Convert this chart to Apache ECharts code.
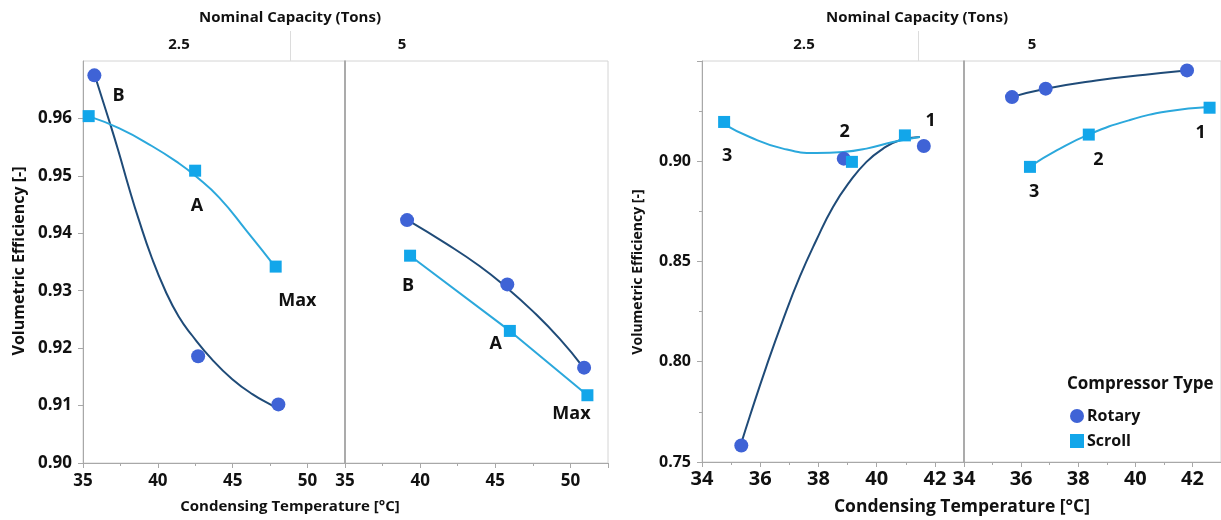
<!DOCTYPE html>
<html><head><meta charset="utf-8">
<script src="https://cdn.jsdelivr.net/npm/echarts@6/dist/echarts.min.js"></script>
<style>html,body{margin:0;padding:0;background:#fff}#c{width:1221px;height:520px}</style>
</head><body><div id="c"></div>
<script>
// ---------- titles / categories ----------
const headerTitle = 'Nominal Capacity (Tons)';
const capacities = ['2.5', '5'];
const yTitle = 'Volumetric Efficiency [-]';
const xTitle = 'Condensing Temperature [°C]';
const legendTitle = 'Compressor Type';
const seriesNames = ['Rotary', 'Scroll'];

// ---------- left figure: [temperature, efficiency] ----------
const leftRotary25 = [[35.76, 0.9675], [42.69, 0.9186], [48.05, 0.9102]];
const leftScroll25 = [[35.38, 0.9604], [42.49, 0.9509], [47.87, 0.9342]];
const leftRotary5  = [[39.13, 0.9423], [45.80, 0.9311], [50.91, 0.9166]];
const leftScroll5  = [[39.33, 0.9361], [45.97, 0.9230], [51.13, 0.9118]];
// smoother curves
const leftRotary25Fit = [[35.80,0.9674],[36.70,0.9600],[37.37,0.9543],[38.04,0.9482],[38.71,0.9425],[39.60,0.9357],[40.50,0.9300],[41.39,0.9255],[42.29,0.9222],[43.63,0.9180],[44.97,0.9146],[46.31,0.9120],[47.65,0.9100],[48.09,0.9094]];
const leftScroll25Fit = [[35.36,0.9604],[37.40,0.9583],[39.60,0.9552],[41.40,0.9522],[42.50,0.9500],[44.10,0.9462],[45.90,0.9405],[47.80,0.9343]];
const leftRotary5Fit  = [[39.17,0.9423],[41.73,0.9382],[43.95,0.9343],[45.73,0.9306],[47.51,0.9264],[49.29,0.9216],[50.84,0.9167]];
const leftScroll5Fit  = [[39.33,0.9361],[45.97,0.9230],[51.13,0.9118]];
// point labels [x, y, text]
const leftLabels25 = [[37.37, 0.9639, 'B'], [42.62, 0.9448, 'A'], [49.32, 0.9283, 'Max']];
const leftLabels5  = [[39.20, 0.9309, 'B'], [45.02, 0.9208, 'A'], [50.07, 0.9085, 'Max']];

// ---------- right figure ----------
const rightRotary25 = [[35.35, 0.7582], [38.87, 0.9013], [41.62, 0.9076]];
const rightScroll25 = [[34.76, 0.9196], [39.15, 0.8997], [40.97, 0.9129]];
const rightRotary5  = [[35.68, 0.9320], [36.86, 0.9362], [41.81, 0.9453]];
const rightScroll5  = [[36.31, 0.8972], [38.37, 0.9133], [42.60, 0.9267]];
const rightRotary25Fit = [[35.35,0.7594],[35.64,0.7727],[36.21,0.7976],[36.78,0.8208],[37.36,0.8424],[37.93,0.8607],[38.50,0.8772],[39.07,0.8897],[39.65,0.8997],[40.22,0.9063],[40.79,0.9105],[41.48,0.9121]];
const rightScroll25Fit = [[34.72,0.9188],[35.64,0.9121],[36.78,0.9063],[37.93,0.9041],[38.85,0.9046],[39.65,0.9063],[40.56,0.9096],[41.48,0.9121]];
const rightRotary5Fit  = [[35.66,0.9320],[36.86,0.9362],[38.63,0.9403],[40.35,0.9432],[41.78,0.9453]];
const rightScroll5Fit  = [[36.29,0.8972],[37.26,0.9055],[38.38,0.9134],[39.77,0.9204],[41.15,0.9249],[42.58,0.9270]];
const rightLabels25 = [[34.86, 0.9025, '3'], [38.90, 0.9146, '2'], [41.85, 0.9201, '1']];
const rightLabels5  = [[36.46, 0.8847, '3'], [38.71, 0.9008, '2'], [42.29, 0.9141, '1']];

// ---------- axis settings ----------
const leftX = {min: 35, max: 52.5, interval: 5};
const leftY = {min: 0.90, max: 0.97, interval: 0.01};
const rightX = {min: 34, max: 43, interval: 2};
const rightY = {min: 0.75, max: 0.95, interval: 0.05};

// ---------- styles ----------
const FONT = '"Open Sans", "Noto Sans", sans-serif';
const TXT = '#111111';
const AX = '#a8a8a8';
const DIV = '#9a9a9a';
const ROT_M = '#3f63d6', ROT_L = '#1f4b78';
const SCR_M = '#12a6ea', SCR_L = '#2ba8dc';

const grids = [
  {left: 83, top: 61, width: 262, height: 402},
  {left: 345, top: 61, width: 263, height: 402},
  {left: 702, top: 61, width: 262, height: 401},
  {left: 964, top: 61, width: 262, height: 401}
].map(g => Object.assign({show: true, borderColor: '#d4d4d4', borderWidth: 1, backgroundColor: 'transparent'}, g));

function xAxis(i, r, minorSplit, size, margin) {
  return {
    type: 'value', gridIndex: i, min: r.min, max: r.max, interval: r.interval,
    axisLine: {show: true, lineStyle: {color: AX, width: 1}},
    axisTick: {show: true, length: 5, lineStyle: {color: AX}},
    minorTick: {show: true, splitNumber: minorSplit, length: 3, lineStyle: {color: AX}},
    splitLine: {show: false},
    axisLabel: {show: true, showMaxLabel: false, showMinLabel: true, margin: margin, color: TXT,
      fontFamily: FONT, fontWeight: 'bold', fontSize: size, hideOverlap: false,
      formatter: v => (Math.abs(v - Math.round(v)) < 1e-9 ? String(Math.round(v)) : '')}
  };
}
function yAxis(i, r, labels, minorSplit, size) {
  return {
    type: 'value', gridIndex: i, min: r.min, max: r.max, interval: r.interval,
    axisLine: {show: true, lineStyle: {color: labels ? AX : DIV, width: labels ? 1 : 1.5}},
    axisTick: {show: labels, length: 5, lineStyle: {color: AX}},
    minorTick: {show: labels && minorSplit > 1, splitNumber: minorSplit, length: 3, lineStyle: {color: AX}},
    splitLine: {show: false},
    axisLabel: {show: labels, showMaxLabel: false, margin: 11, color: TXT,
      fontFamily: FONT, fontWeight: 'bold', fontSize: size, hideOverlap: false,
      formatter: v => v.toFixed(2)}
  };
}

function markers(name, data, gi) {
  const rot = name === 'Rotary';
  return {
    name: name, type: 'scatter', xAxisIndex: gi, yAxisIndex: gi, data: data,
    symbol: rot ? 'circle' : 'rect', symbolSize: rot ? 14 : 12, z: 5,
    itemStyle: {color: rot ? ROT_M : SCR_M, opacity: 1}, silent: true
  };
}
function fit(name, data, gi, smooth) {
  const rot = name === 'Rotary';
  return {
    name: name + ' fit', type: 'line', xAxisIndex: gi, yAxisIndex: gi, data: data,
    smooth: smooth, showSymbol: false, symbol: 'none', z: 3, silent: true,
    lineStyle: {color: rot ? ROT_L : SCR_L, width: 2}
  };
}
function labels(data, gi) {
  return {
    type: 'scatter', xAxisIndex: gi, yAxisIndex: gi, data: data, symbolSize: 0, z: 6, silent: true,
    itemStyle: {color: 'rgba(0,0,0,0)', opacity: 1},
    label: {show: true, position: 'inside', formatter: p => p.data[2], color: TXT, opacity: 1,
      textBorderWidth: 0, textBorderColor: 'transparent',
      fontFamily: FONT, fontWeight: 'bold', fontSize: 18}
  };
}

const series = [
  fit('Rotary', leftRotary25Fit, 0, true), fit('Scroll', leftScroll25Fit, 0, true),
  markers('Rotary', leftRotary25, 0), markers('Scroll', leftScroll25, 0), labels(leftLabels25, 0),
  fit('Rotary', leftRotary5Fit, 1, true), fit('Scroll', leftScroll5Fit, 1, false),
  markers('Rotary', leftRotary5, 1), markers('Scroll', leftScroll5, 1), labels(leftLabels5, 1),
  fit('Rotary', rightRotary25Fit, 2, true), fit('Scroll', rightScroll25Fit, 2, true),
  markers('Rotary', rightRotary25, 2), markers('Scroll', rightScroll25, 2), labels(rightLabels25, 2),
  fit('Rotary', rightRotary5Fit, 3, true), fit('Scroll', rightScroll5Fit, 3, true),
  markers('Rotary', rightRotary5, 3), markers('Scroll', rightScroll5, 3), labels(rightLabels5, 3)
];

function txt(x, y, text, size, rot) {
  return {type: 'text', x: x, y: y, rotation: rot || 0, silent: true,
    style: {text: text, fill: TXT, align: 'center', verticalAlign: 'middle',
      font: 'bold ' + size + 'px ' + FONT}};
}
function vline(x, y1, y2) {
  return {type: 'line', silent: true, shape: {x1: x, y1: y1, x2: x, y2: y2},
    style: {stroke: '#dcdcdc', lineWidth: 1}};
}

const graphic = [
  txt(290, 18, headerTitle, 15), txt(179, 45, capacities[0], 15), txt(402, 45, capacities[1], 15), vline(290.5, 31, 61),
  txt(917, 18, headerTitle, 15), txt(804, 45, capacities[0], 15), txt(1032, 45, capacities[1], 15), vline(918.5, 31, 61),
  txt(19, 261, yTitle, 16, Math.PI / 2), txt(638, 272, yTitle, 14, Math.PI / 2),
  txt(290, 507, xTitle, 15), txt(962, 507, xTitle, 17.5),
  {type: 'text', x: 1067, y: 384, silent: true,
    style: {text: legendTitle, fill: TXT, align: 'left', verticalAlign: 'middle', font: 'bold 17px ' + FONT}}
];

const chart = echarts.init(document.getElementById('c'), null, {renderer: 'canvas'});
chart.setOption({
  animation: false,
  backgroundColor: '#ffffff',
  grid: grids,
  xAxis: [xAxis(0, leftX, 2, 17, 10), xAxis(1, leftX, 2, 17, 10), xAxis(2, rightX, 2, 20, 7), xAxis(3, rightX, 2, 20, 7)],
  yAxis: [yAxis(0, leftY, true, 1, 17), yAxis(1, leftY, false, 1, 17), yAxis(2, rightY, true, 2, 16), yAxis(3, rightY, false, 2, 16)],
  legend: {
    left: 1070, top: 408, padding: 0, orient: 'vertical', itemGap: 9, itemWidth: 14, itemHeight: 14,
    selectedMode: false,
    data: [{name: seriesNames[0], icon: 'circle'}, {name: seriesNames[1], icon: 'rect'}],
    textStyle: {color: TXT, fontFamily: FONT, fontWeight: 'bold', fontSize: 16, lineHeight: 14, padding: [0, 0, 0, -2]}
  },
  series: series,
  graphic: graphic
});
</script></body></html>
